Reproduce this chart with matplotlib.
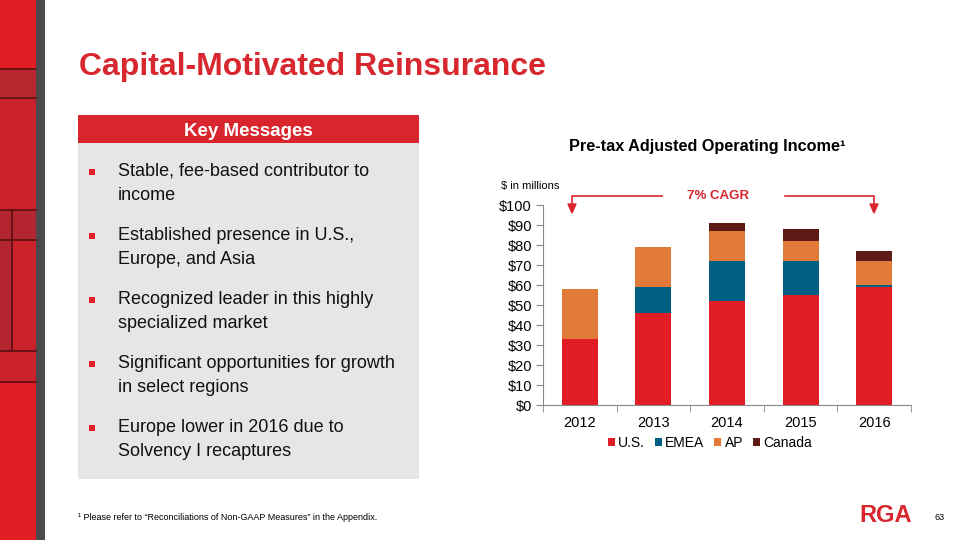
import matplotlib.pyplot as plt
import matplotlib.patches as mpatches
import numpy as np

plt.rcParams['font.family'] = ['Liberation Sans', 'DejaVu Sans']

# data ($ in millions)
years = ['2012', '2013', '2014', '2015', '2016']
us = [33, 46, 52, 55, 59]
emea = [0, 13, 20, 17, 1]
ap = [25, 20, 15, 10, 12]
canada = [0, 0, 4, 6, 5]

series_names = ['U.S.', 'EMEA', 'AP', 'Canada']
series_colors = ['#E31D25', '#005F83', '#E27A3A', '#5E1B16']

bullets = [
    'Stable, fee-based contributor to\nincome',
    'Established presence in U.S.,\nEurope, and Asia',
    'Recognized leader in this highly\nspecialized market',
    'Significant opportunities for growth\nin select regions',
    'Europe lower in 2016 due to\nSolvency I recaptures',
]

W, H = 960, 540
fig = plt.figure(figsize=(9.6, 5.4), dpi=100)
fig.patch.set_facecolor('white')


def fx(x):
    return x / W


def fy(y):
    return 1 - y / H


def rect(x0, y0, x1, y1, color, z=0):
    fig.patches.append(mpatches.Rectangle((fx(x0), fy(y1)), fx(x1 - x0), (y1 - y0) / H,
                                          transform=fig.transFigure, facecolor=color,
                                          edgecolor='none', zorder=z))


def hline(y, x0, x1, color='#5A0E12', lw=1.2):
    fig.lines.append(plt.Line2D([fx(x0), fx(x1)], [fy(y), fy(y)], transform=fig.transFigure,
                                color=color, lw=lw))


def vline(x, y0, y1, color='#5A0E12', lw=1.2):
    fig.lines.append(plt.Line2D([fx(x), fx(x)], [fy(y0), fy(y1)], transform=fig.transFigure,
                                color=color, lw=lw))


# left decorative strip
rect(0, 0, 36, 540, '#E31D25')
rect(0, 69, 36, 98, '#B8262E')
rect(0, 98, 36, 210, '#C9222B')
rect(0, 210, 36, 240, '#B3262F')
rect(0, 240, 12, 351, '#B3262F')
rect(12, 240, 36, 351, '#C9222B')
rect(0, 351, 36, 382, '#C9222B')
rect(36, 0, 45, 540, '#4A4A4C')
for y in [69, 98, 210, 240, 351, 382]:
    hline(y, 0, 36)
vline(12, 210, 351)

# title
fig.text(fx(79), fy(67), 'Capital-Motivated Reinsurance', color='#D7282F', fontsize=23,
         fontweight='bold', va='center', ha='left')

# key messages box
rect(78, 115, 419, 143, '#D9262E')
rect(78, 143, 419, 479, '#E6E6E6')
fig.text(fx(248), fy(131), 'Key Messages', color='white', fontsize=13.5, fontweight='bold',
         ha='center', va='center')
for i, b in enumerate(bullets):
    y = 172 + 64 * i
    rect(89, y - 3.5, 95, y + 2.5, '#E31D25', z=2)
    fig.text(fx(118), fy(y - 9), b, fontsize=13, color='#111111', ha='left', va='top',
             linespacing=1.55)

# chart
ax = fig.add_axes([fx(543), fy(405), fx(911 - 543), 200 / H])
x = np.arange(len(years))
bottom = np.zeros(len(years))
for name, vals, col in zip(series_names, [us, emea, ap, canada], series_colors):
    ax.bar(x, vals, width=0.49, bottom=bottom, color=col, label=name, zorder=2)
    bottom += np.array(vals)

ax.set_xlim(-0.5, len(years) - 0.5)
ax.set_ylim(0, 100)
ax.set_yticks(np.arange(0, 101, 10))
ax.set_yticklabels([f'${v}' for v in range(0, 101, 10)], fontsize=10.5)
ax.set_xticks(x)
ax.set_xticklabels(years, fontsize=10.5)
ax.set_xticks(np.arange(-0.5, len(years), 1), minor=True)
ax.tick_params(axis='x', which='major', length=0, pad=8)
ax.tick_params(axis='x', which='minor', length=5, color='#888888')
ax.tick_params(axis='y', length=5, color='#888888', pad=3)
for s in ['top', 'right']:
    ax.spines[s].set_visible(False)
for s in ['left', 'bottom']:
    ax.spines[s].set_color('#888888')
ax.set_facecolor('none')

fig.legend(loc='center', bbox_to_anchor=(fx(710), fy(443)), ncol=4, frameon=False,
           fontsize=10, handlelength=0.5, handleheight=0.5, handletextpad=0.25,
           columnspacing=0.7)

fig.text(fx(707), fy(147), 'Pre-tax Adjusted Operating Income\u00b9', fontsize=11.7,
         fontweight='bold', ha='center', va='center')
fig.text(fx(501), fy(186), '$ in millions', fontsize=8, ha='left', va='center')

# CAGR annotation
fig.text(fx(718), fy(196), '7% CAGR', color='#D9262E', fontsize=9.5, fontweight='bold',
         ha='center', va='center')
for xs, xe in [(662, 572), (785, 874)]:
    fig.lines.append(plt.Line2D([fx(xs), fx(xe), fx(xe)], [fy(196), fy(196), fy(206)],
                                transform=fig.transFigure, color='#D9262E', lw=1.2))
    fig.patches.append(mpatches.Polygon([(fx(xe - 4), fy(204)), (fx(xe + 4), fy(204)),
                                         (fx(xe), fy(213))], closed=True,
                                        transform=fig.transFigure, color='#D9262E'))

# footer
fig.text(fx(78), fy(518), '\u00b9 Please refer to \u201cReconciliations of Non-GAAP Measures\u201d in the Appendix.',
         fontsize=6.5, ha='left', va='center')
fig.text(fx(886), fy(515), 'RGA', color='#D9262E', fontsize=17, fontweight='heavy',
         ha='center', va='center')
fig.text(fx(940), fy(517), '63', fontsize=6.5, ha='center', va='center')

fig.savefig('out.png', dpi=100)
